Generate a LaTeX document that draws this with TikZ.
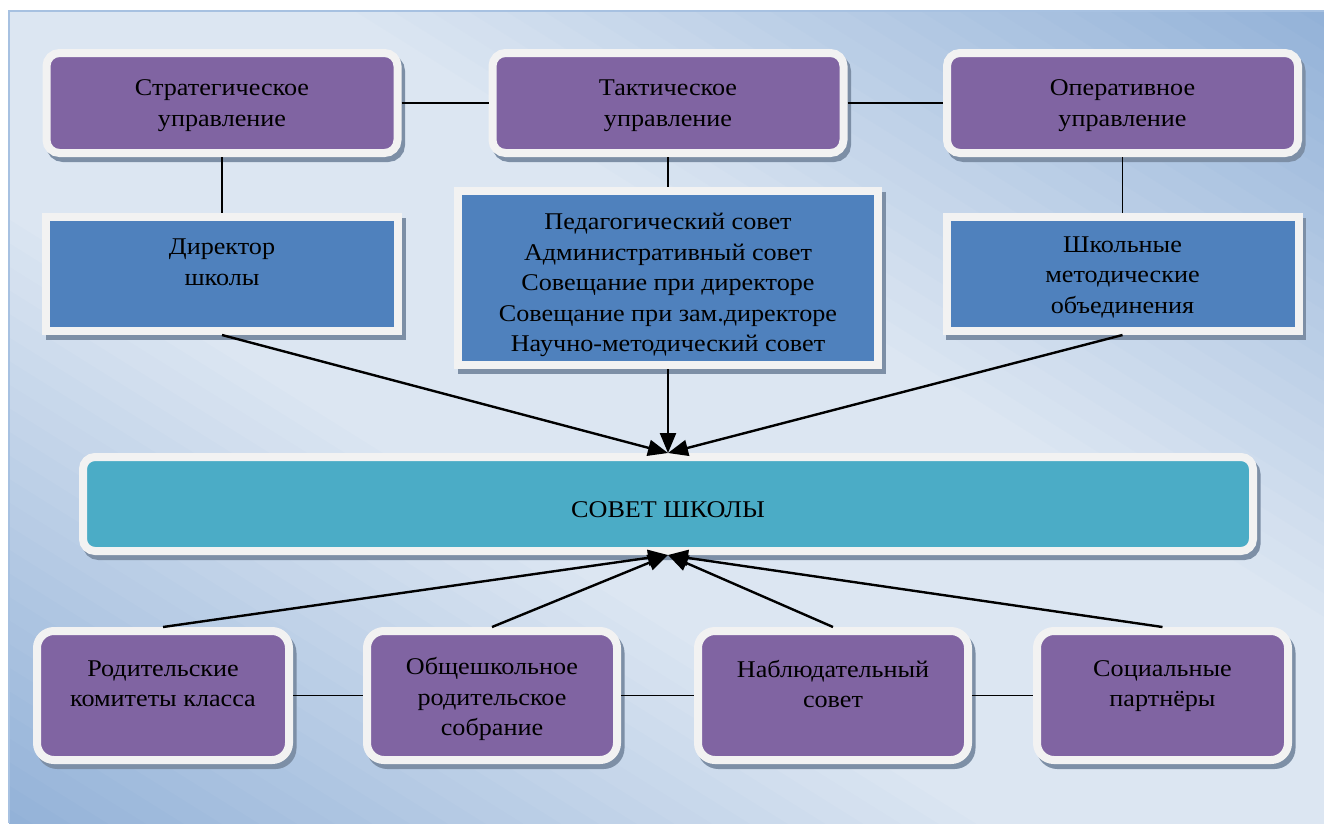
\documentclass[tikz,border=0pt]{standalone}
\usepackage{fontspec}
\setmainfont{Liberation Serif}[FakeStretch=1.09]
\usetikzlibrary{arrows.meta,shadows}
\definecolor{purp}{HTML}{8064A2}
\definecolor{blu}{HTML}{4F81BD}
\definecolor{teal2}{HTML}{4BACC6}
\definecolor{rim}{HTML}{F2F2F2}
\definecolor{shad}{HTML}{7D8FA6}
\definecolor{bglight}{HTML}{DCE6F2}
\definecolor{bgdark}{HTML}{93B2D8}
\definecolor{bgline}{HTML}{A7C1E1}
\begin{document}
\begin{tikzpicture}[x=1pt,y=-1pt,
  boxbase/.style={draw=rim, line width=8pt, inner sep=0pt,
    drop shadow={shadow xshift=3.5pt, shadow yshift=-5pt, fill=shad, draw=shad, line width=8pt, opacity=1}},
  purpbox/.style={boxbase, fill=purp, rounded corners=13pt, minimum width=351pt, minimum height=100pt},
  blubox/.style={boxbase, fill=blu},
  tealbox/.style={boxbase, fill=teal2, rounded corners=12pt},
  botbox/.style={boxbase, fill=purp, rounded corners=17pt, minimum height=129pt},
  txt/.style={font=\fontsize{24}{30.5}\selectfont, align=center, text=black, inner sep=0pt},
  link/.style={draw=black, line width=1.8pt},
  arr/.style={draw=black, line width=2.4pt, -{Triangle[length=20pt,width=16pt]}}
]
\useasboundingbox (0,0) rectangle (1324,823);
\fill[white] (0,0) rectangle (1324,823);
% background gradient (light diagonal band, darker top-right and bottom-left corners)
\begin{scope}
  \clip (9,11) rectangle (1324,823);
  \begin{scope}[shift={(666,417)}, rotate=58]
    \foreach \i in {0,...,71}{
      \pgfmathsetmacro{\tc}{-710+20*\i}
      \pgfmathsetmacro{\mm}{min(100,max(0,(abs(\tc)-170)/520*100))}
      \fill[bgdark!\mm!bglight] (\tc-10.6,-1200) rectangle (\tc+10.6,1200);
    }
  \end{scope}
\end{scope}
\draw[bgline, line width=2pt] (9,823) -- (9,11) -- (1324,11);

% top row
\node[purpbox] (s1) at (222,103) {};
\node[purpbox] (s2) at (668,103) {};
\node[purpbox] (s3) at (1122.5,103) {};
\node[txt] (s1t) at ([yshift=-2.5pt]s1.center) {Стратегическое\\управление};
\node[txt] (s2t) at ([yshift=-2.5pt]s2.center) {Тактическое\\управление};
\node[txt] (s3t) at ([yshift=-2.5pt]s3.center) {Оперативное\\управление};

% second row
\node[blubox, minimum width=352pt, minimum height=114pt] (d1) at (222,274) {};
\node[blubox, minimum width=420pt, minimum height=174pt] (d2) at (668,278) {};
\node[blubox, minimum width=352pt, minimum height=114pt] (d3) at (1122.5,274) {};
\node[txt] (d1t) at ([yshift=-3.5pt]d1.center) {Директор\\школы\\~};
\node[txt] (d2t) at ([yshift=-7pt]d2.center) {Педагогический совет\\Административный совет\\Совещание при директоре\\Совещание при зам.директоре\\Научно-методический совет};
\node[txt] (d3t) at ([yshift=-3pt]d3.center) {Школьные\\методические\\объединения};

% council
\node[tealbox, minimum width=1170pt, minimum height=94pt] (council) at (668,504) {};
\node[txt] (councilt) at ([yshift=-5.5pt]council.center) {СОВЕТ ШКОЛЫ};

% bottom row
\node[botbox, minimum width=252pt] (b1) at (163,695.5) {};
\node[botbox, minimum width=250pt] (b2) at (492,695.5) {};
\node[botbox, minimum width=270pt] (b3) at (833,695.5) {};
\node[botbox, minimum width=251pt] (b4) at (1162.5,695.5) {};
\node[txt] (b1t) at ([yshift=-3.5pt]b1.center) {Родительские\\комитеты класса\\~};
\node[txt] (b2t) at ([yshift=-3.5pt]b2.center) {Общешкольное\\родительское\\собрание};
\node[txt] (b3t) at ([yshift=-3.5pt]b3.center) {Наблюдательный\\совет\\~};
\node[txt] (b4t) at ([yshift=-3.5pt]b4.center) {Социальные\\партнёры\\~};

% links
\draw[link] (s1) -- (s2);
\draw[link] (s2) -- (s3);
\draw[link] (s1) -- (d1);
\draw[link] (s2) -- (d2);
\draw[link] (s3) -- (d3);
\draw[link] (b1) -- (b2);
\draw[link] (b2) -- (b3);
\draw[link] (b3) -- (b4);

% arrows
\draw[arr] (d1.south) -- (council.north);
\draw[arr] (d2.south) -- (council.north);
\draw[arr] (d3.south) -- (council.north);
\draw[arr] (b1.north) -- (council.south);
\draw[arr] (b2.north) -- (council.south);
\draw[arr] (b3.north) -- (council.south);
\draw[arr] (b4.north) -- (council.south);
\end{tikzpicture}
\end{document}
